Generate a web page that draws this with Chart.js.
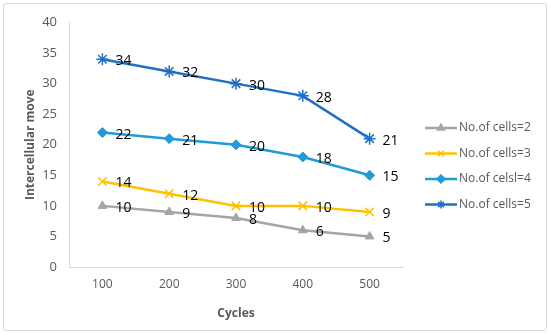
<!DOCTYPE html>
<html>
<head>
<meta charset="utf-8">
<script src="https://cdn.jsdelivr.net/npm/chart.js@4.4.1/dist/chart.umd.min.js"></script>
<style>
  html, body { margin: 0; padding: 0; background: #fff; }
  #wrap {
    position: absolute; left: 3px; top: 3px;
    width: 544px; height: 328px; box-sizing: border-box;
    border: 1px solid #d9d9d9; border-radius: 3px;
  }
  canvas { display: block; }
</style>
</head>
<body>
<div id="wrap"><canvas id="chart" width="542" height="326"></canvas></div>
<script>
const cycles = ["100", "200", "300", "400", "500"];
const cells2 = [10, 9, 8, 6, 5];
const cells3 = [14, 12, 10, 10, 9];
const cells4 = [22, 21, 20, 18, 15];
const cells5 = [34, 32, 30, 28, 21];
const seriesNames = ["No.of cells=2", "No.of cells=3", "No.of celsl=4", "No.of cells=5"];

const FONT = "'Open Sans', 'DejaVu Sans', sans-serif";
const GREY_TXT = "#595959";

// value labels to the right of every point
const valueLabels = {
  id: "valueLabels",
  afterDatasetsDraw(chart) {
    const ctx = chart.ctx;
    ctx.save();
    ctx.font = "14px " + FONT;
    ctx.fillStyle = "#000";
    ctx.textBaseline = "middle";
    ctx.textAlign = "left";
    chart.data.datasets.forEach((ds, i) => {
      chart.getDatasetMeta(i).data.forEach((pt, j) => {
        ctx.fillText(String(ds.data[j]), pt.x + 13, pt.y + 2);
      });
    });
    ctx.restore();
  },
};

// excel-like legend: short line with the marker in the middle
const sideLegend = {
  id: "sideLegend",
  afterDraw(chart) {
    const ctx = chart.ctx;
    const x0 = 421, x1 = 453, top = 124, step = 25.5;
    ctx.save();
    chart.data.datasets.forEach((ds, i) => {
      const y = top + i * step;
      ctx.strokeStyle = ds.borderColor;
      ctx.lineWidth = 2.5;
      ctx.beginPath();
      ctx.moveTo(x0, y);
      ctx.lineTo(x1, y);
      ctx.stroke();
      ctx.fillStyle = ds.borderColor;
      ctx.lineWidth = 1.5;
      Chart.helpers.drawPoint(ctx, { pointStyle: ds.pointStyle, radius: 4, rotation: 0, borderWidth: 1.5 }, (x0 + x1) / 2, y);
      ctx.fillStyle = GREY_TXT;
      ctx.font = "12px " + FONT;
      ctx.textBaseline = "middle";
      ctx.textAlign = "left";
      ctx.fillText(ds.label, x1 + 2, y);
    });
    ctx.restore();
  },
};

function line(label, data, color, style, radius) {
  return {
    label,
    data,
    borderColor: color,
    backgroundColor: color,
    borderWidth: 2.5,
    pointStyle: style,
    pointRadius: radius,
    pointBorderWidth: style === "star" || style === "crossRot" ? 1.5 : 1,
    tension: 0,
  };
}

new Chart(document.getElementById("chart"), {
  type: "line",
  data: {
    labels: cycles,
    datasets: [
      line(seriesNames[0], cells2, "#a5a5a5", "triangle", 5),
      line(seriesNames[1], cells3, "#ffc000", "crossRot", 6),
      line(seriesNames[2], cells4, "#1f9bd7", "rectRot", 5),
      line(seriesNames[3], cells5, "#1f6fc5", "star", 6),
    ],
  },
  options: {
    responsive: false,
    animation: false,
    layout: { padding: { top: 15, right: 143, left: 0, bottom: 0 } },
    plugins: {
      legend: { display: false },
      tooltip: { enabled: false },
    },
    scales: {
      x: {
        offset: true,
        grid: { display: false, drawTicks: false, offset: true },
        border: { display: true, color: "#d9d9d9", width: 1 },
        ticks: { color: GREY_TXT, font: { family: FONT, size: 12 }, padding: 10 },
        title: { display: true, text: "Cycles", color: GREY_TXT, font: { family: FONT, size: 12, weight: "bold" }, padding: { top: 4, bottom: 9 } },
        afterFit: (s) => { s.height = 63; },
      },
      y: {
        min: 0,
        max: 40,
        grid: { display: false, drawTicks: false },
        border: { display: true, color: "#d9d9d9", width: 1 },
        ticks: { stepSize: 5, color: GREY_TXT, font: { family: FONT, size: 13, lineHeight: 1 }, padding: 12 },
        title: { display: true, text: "Intercellular move", color: GREY_TXT, font: { family: FONT, size: 12, weight: "bold" }, padding: { top: 19, bottom: 4 } },
        afterFit: (s) => { s.width = 65; },
      },
    },
  },
  plugins: [valueLabels, sideLegend],
});
</script>
</body>
</html>
